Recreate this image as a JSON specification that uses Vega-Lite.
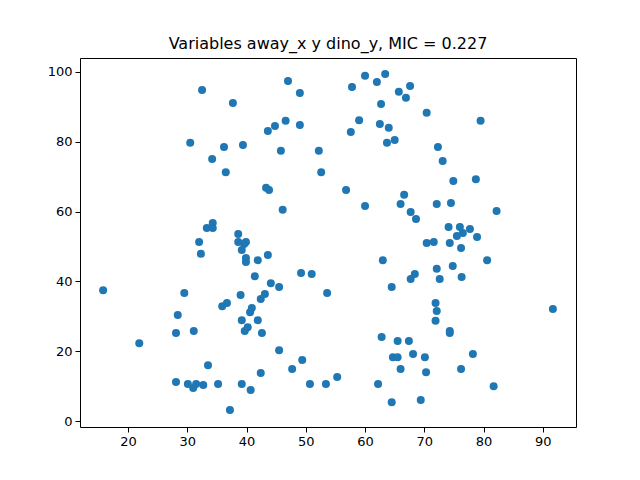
{
  "$schema": "https://vega.github.io/schema/vega-lite/v6.json",
  "width": 496,
  "height": 369,
  "autosize": "none",
  "padding": {"left": 80, "top": 58, "right": 64, "bottom": 53},
  "background": "white",
  "config": {
    "font": "DejaVu Sans",
    "view": {"stroke": "black", "strokeWidth": 1},
    "axis": {"grid": false, "domain": false, "tickColor": "black", "tickSize": 5, "labelFontSize": 13, "labelColor": "black", "labelPadding": 3, "titleFontSize": 13}
  },
  "title": {"text": "Variables away_x y dino_y, MIC = 0.227", "fontSize": 16, "fontWeight": "normal", "font": "DejaVu Sans", "offset": 6},
  "data": {
    "values": [
      {"x": 15.8, "y": 37.5}, {"x": 21.9, "y": 22.3}, {"x": 30.5, "y": 79.7}, {"x": 32.5, "y": 94.8},
      {"x": 37.7, "y": 91.1}, {"x": 29.5, "y": 36.7}, {"x": 28.4, "y": 30.4}, {"x": 28.1, "y": 25.2},
      {"x": 31.1, "y": 25.8}, {"x": 28.1, "y": 11.2}, {"x": 30.1, "y": 10.6}, {"x": 31.0, "y": 9.5},
      {"x": 31.5, "y": 10.6}, {"x": 32.7, "y": 10.3}, {"x": 33.5, "y": 16.0}, {"x": 35.2, "y": 10.6},
      {"x": 37.2, "y": 3.2}, {"x": 39.2, "y": 10.6}, {"x": 40.7, "y": 8.9}, {"x": 42.4, "y": 13.8},
      {"x": 45.5, "y": 20.3}, {"x": 47.7, "y": 14.9}, {"x": 49.4, "y": 17.5}, {"x": 50.7, "y": 10.6},
      {"x": 53.4, "y": 10.6}, {"x": 55.3, "y": 12.6}, {"x": 32.0, "y": 51.3}, {"x": 32.3, "y": 47.9},
      {"x": 33.3, "y": 55.3}, {"x": 34.3, "y": 56.7}, {"x": 34.3, "y": 55.3}, {"x": 34.2, "y": 75.1},
      {"x": 36.2, "y": 78.5}, {"x": 36.5, "y": 71.3}, {"x": 39.4, "y": 79.1}, {"x": 38.6, "y": 53.6},
      {"x": 38.6, "y": 51.3}, {"x": 39.6, "y": 50.7}, {"x": 39.9, "y": 51.3}, {"x": 39.2, "y": 49.0},
      {"x": 39.9, "y": 46.7}, {"x": 39.9, "y": 45.6}, {"x": 41.4, "y": 41.5}, {"x": 41.9, "y": 46.1},
      {"x": 43.6, "y": 47.6}, {"x": 39.0, "y": 36.1}, {"x": 35.9, "y": 32.9}, {"x": 36.7, "y": 33.8},
      {"x": 40.6, "y": 31.2}, {"x": 40.9, "y": 32.4}, {"x": 39.2, "y": 28.9}, {"x": 40.2, "y": 26.9},
      {"x": 39.7, "y": 25.8}, {"x": 41.9, "y": 28.9}, {"x": 42.6, "y": 25.2}, {"x": 42.4, "y": 35.0},
      {"x": 43.1, "y": 36.4}, {"x": 44.1, "y": 39.5}, {"x": 45.5, "y": 38.4}, {"x": 43.3, "y": 66.8},
      {"x": 43.8, "y": 66.2}, {"x": 46.1, "y": 60.5}, {"x": 45.8, "y": 77.4}, {"x": 43.6, "y": 83.1},
      {"x": 44.8, "y": 84.5}, {"x": 46.6, "y": 86.0}, {"x": 49.0, "y": 84.8}, {"x": 47.0, "y": 97.4},
      {"x": 49.0, "y": 94.0}, {"x": 52.2, "y": 77.4}, {"x": 52.6, "y": 71.3}, {"x": 49.2, "y": 42.4},
      {"x": 51.0, "y": 42.1}, {"x": 53.6, "y": 36.7}, {"x": 56.8, "y": 66.2}, {"x": 57.6, "y": 82.8},
      {"x": 57.8, "y": 95.7}, {"x": 59.0, "y": 86.2}, {"x": 60.0, "y": 98.9}, {"x": 60.0, "y": 61.6},
      {"x": 62.0, "y": 97.1}, {"x": 63.4, "y": 99.4}, {"x": 62.7, "y": 90.8}, {"x": 62.5, "y": 85.1},
      {"x": 64.0, "y": 84.0}, {"x": 63.7, "y": 79.7}, {"x": 65.0, "y": 80.5}, {"x": 65.7, "y": 94.3},
      {"x": 66.9, "y": 92.6}, {"x": 67.6, "y": 96.0}, {"x": 70.4, "y": 88.3}, {"x": 63.0, "y": 46.1},
      {"x": 64.5, "y": 38.4}, {"x": 62.8, "y": 24.1}, {"x": 62.2, "y": 10.6}, {"x": 64.7, "y": 18.3},
      {"x": 65.5, "y": 18.3}, {"x": 65.5, "y": 22.9}, {"x": 66.0, "y": 14.9}, {"x": 67.4, "y": 22.9},
      {"x": 68.1, "y": 19.2}, {"x": 64.5, "y": 5.4}, {"x": 69.4, "y": 6.0}, {"x": 70.1, "y": 18.3},
      {"x": 70.3, "y": 14.0}, {"x": 66.6, "y": 64.8}, {"x": 66.0, "y": 62.2}, {"x": 67.7, "y": 59.9},
      {"x": 68.6, "y": 57.9}, {"x": 67.7, "y": 40.7}, {"x": 68.4, "y": 42.1}, {"x": 70.4, "y": 51.0},
      {"x": 71.6, "y": 51.3}, {"x": 72.1, "y": 62.2}, {"x": 72.3, "y": 78.5}, {"x": 73.1, "y": 74.5},
      {"x": 74.5, "y": 62.5}, {"x": 74.9, "y": 68.8}, {"x": 74.1, "y": 55.6}, {"x": 74.3, "y": 51.0},
      {"x": 75.5, "y": 53.0}, {"x": 76.0, "y": 55.6}, {"x": 76.5, "y": 53.9}, {"x": 76.2, "y": 49.6},
      {"x": 77.7, "y": 55.0}, {"x": 78.7, "y": 69.3}, {"x": 78.9, "y": 52.7}, {"x": 79.5, "y": 86.0},
      {"x": 80.6, "y": 46.1}, {"x": 82.2, "y": 60.2}, {"x": 72.1, "y": 43.6}, {"x": 72.6, "y": 40.7},
      {"x": 74.8, "y": 44.4}, {"x": 76.3, "y": 41.3}, {"x": 71.9, "y": 33.8}, {"x": 72.1, "y": 31.5},
      {"x": 71.9, "y": 28.7}, {"x": 74.3, "y": 25.8}, {"x": 74.3, "y": 25.2}, {"x": 76.2, "y": 14.9},
      {"x": 78.2, "y": 19.2}, {"x": 81.7, "y": 10.0}, {"x": 91.7, "y": 32.1}
    ]
  },
  "mark": {"type": "point", "filled": true, "shape": "circle", "size": 64, "color": "#1f77b4", "opacity": 1},
  "encoding": {
    "x": {"field": "x", "type": "quantitative", "title": null, "scale": {"domain": [11.9, 95.6], "nice": false, "zero": false}, "axis": {"values": [20, 30, 40, 50, 60, 70, 80, 90]}},
    "y": {"field": "y", "type": "quantitative", "title": null, "scale": {"domain": [-1.7, 104], "nice": false, "zero": false}, "axis": {"values": [0, 20, 40, 60, 80, 100]}}
  }
}
